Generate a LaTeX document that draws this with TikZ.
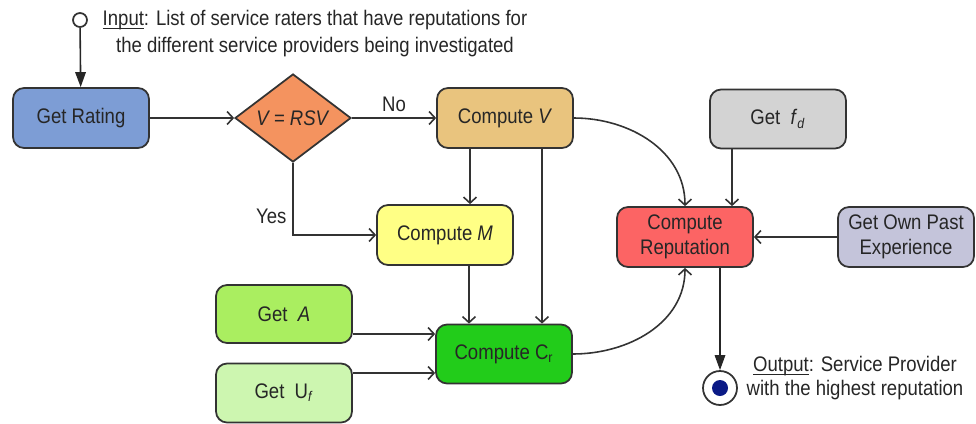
\documentclass[tikz,border=0pt]{standalone}
\usepackage{fontspec}
\setmainfont{Liberation Sans}[FakeStretch=0.88]
\usetikzlibrary{shapes.geometric,arrows.meta}

\definecolor{ratingblue}{HTML}{7D9DD5}
\definecolor{checkorange}{HTML}{F4935F}
\definecolor{computetan}{HTML}{E9C47E}
\definecolor{computeyellow}{HTML}{FFFF85}
\definecolor{computegreen}{HTML}{22CC1A}
\definecolor{getlime}{HTML}{AAEE60}
\definecolor{getpale}{HTML}{CDF6B0}
\definecolor{reputred}{HTML}{FC6464}
\definecolor{getgray}{HTML}{D3D3D3}
\definecolor{getlavender}{HTML}{C4C4DA}
\definecolor{outnavy}{HTML}{0B1A86}

% underline drawn just under the baseline
\newcommand{\undertext}[1]{\setbox0\hbox{#1}\rlap{\rule[-1.7pt]{\wd0}{0.5pt}}#1}

\begin{document}
\begin{tikzpicture}[
		x=0.02cm, y=-0.02cm,
		font=\fontsize{12}{14.5}\selectfont,
		box/.style={draw=black!80,line width=1pt,rounded corners=2.2mm,
			minimum width=2.72cm,minimum height=1.2cm,align=center,
			inner sep=1pt,text=black!85},
		decision/.style={diamond,draw=black!80,line width=1pt,
			minimum width=2.32cm,minimum height=1.38cm,inner sep=0pt,
			fill=checkorange,text=black!85},
		connector/.style={-{Straight Barb[length=1.2mm,width=2.6mm]},
			line width=0.9pt,black!80},
		terminal/.style={-{Triangle[length=3mm,width=2.1mm]},
			line width=0.9pt,black!85},
		tag/.style={text=black!85},
	]

	\useasboundingbox (0,0) rectangle (976,423);

	% ---------- input and first decision ----------
	\node[draw=black!80,circle,line width=1pt,minimum size=0.28cm,inner sep=0pt,
		fill=white] (start) at (80,20) {};
	\node[tag,align=center,font=\fontsize{12}{15.4}\selectfont] (intext) at (315,34)
		{\undertext{Input}: List of service raters that have reputations for\\
		the different service providers being investigated};
	\node[box,fill=ratingblue] (rating) at (81,118) {Get Rating};
	\node[decision] (check) at (293,118) {\textit{V = RSV}};

	% ---------- compute chain ----------
	\node[box,fill=computetan] (cv) at (505,118) {Compute \textit{V}};
	\node[box,fill=computeyellow] (cm) at (445,235) {Compute \textit{M}};
	\node[box,fill=computegreen,minimum height=1.18cm] (ccr) at (504,354)
		{Compute C\textsubscript{r}};
	\node[box,fill=getlime,minimum height=1.16cm] (ga) at (284,314) {Get\ \ \textit{A}};
	\node[box,fill=getpale,minimum height=1.18cm] (guf) at (284,393)
		{Get\ \ U\textsubscript{\textit{f}}};

	% ---------- reputation ----------
	\node[box,fill=reputred] (rep) at (685,237) {Compute\\Reputation};
	\node[box,fill=getgray,minimum height=1.18cm] (fd) at (778,119)
		{Get\ \ \textit{f}\textsubscript{\textit{d}}};
	\node[box,fill=getlavender] (own) at (906,237) {Get Own Past\\Experience};

	% ---------- output ----------
	\node[draw=black!80,circle,line width=1pt,minimum size=0.68cm,inner sep=0pt,
		fill=white] (finish) at (720,388) {};
	\fill[outnavy] (finish.center) circle (0.16cm);
	\node[tag,align=center,font=\fontsize{12}{13.5}\selectfont] (outtext) at (855,378)
		{\undertext{Output}: Service Provider\\with the highest reputation};

	% ---------- connectors ----------
	\draw[terminal] (start) -- (rating);
	\draw[connector] (rating) -- (check);
	\draw[connector] (check) -- node[tag,above] {No} (cv);
	\draw[connector] (check.south) |- node[tag,pos=0.37,left] {Yes} (cm.west);
	\draw[connector] ([xshift=-0.7cm]cv.south) -- ([xshift=-0.7cm]cv.south |- cm.north);
	\draw[connector] ([xshift=0.74cm]cv.south) -- ([xshift=0.74cm]cv.south |- ccr.north);
	\draw[connector] ([xshift=0.48cm]cm.south) -- ([xshift=0.48cm]cm.south |- ccr.north);
	\draw[connector] ([yshift=-0.4cm]ga.east) -- ([yshift=-0.4cm]ga.east -| ccr.west);
	\draw[connector] ([yshift=0.4cm]guf.east) -- ([yshift=0.4cm]guf.east -| ccr.west);
	\draw[connector] (cv.east) to[out=0,in=90] (rep.north);
	\draw[connector] (ccr.east) to[out=0,in=-90] (rep.south);
	\draw[connector] ([xshift=-0.92cm]fd.south) -- ([xshift=-0.92cm]fd.south |- rep.north);
	\draw[connector] (own) -- (rep);
	\draw[terminal] ([xshift=0.7cm]rep.south) -- ([xshift=0.7cm]rep.south |- finish.north);

\end{tikzpicture}
\end{document}
